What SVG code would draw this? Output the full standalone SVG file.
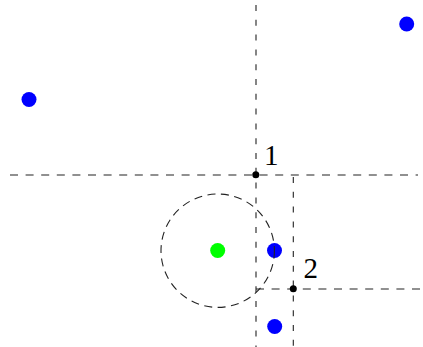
<svg xmlns="http://www.w3.org/2000/svg" width="423" height="347" viewBox="0 0 423 347">
<style>
.h{stroke:#222;stroke-width:1.1;fill:none;stroke-dasharray:8 7.6}
.v{stroke:#222;stroke-width:1.1;fill:none;stroke-dasharray:6 8.8}
.c{stroke:#222;stroke-width:1.1;fill:none;stroke-dasharray:8 5.5}
.blue{fill:#0000ff}
.green{fill:#00ff00}
.k{fill:#000}
.lbl{font-family:"Liberation Serif",serif;font-size:29px;fill:#000}
</style>
<rect width="423" height="347" fill="#fff"/>
<g id="points">
<circle class="blue" cx="29" cy="99.5" r="7.5"/>
<circle class="blue" cx="406.7" cy="24" r="7.5"/>
<circle class="blue" cx="274.5" cy="250.5" r="7.5"/>
<circle class="blue" cx="274.7" cy="326.5" r="7.5"/>
<circle class="green" cx="217.7" cy="250.5" r="7.5"/>
</g>
<g id="connectors">
<line class="v" x1="256" y1="5" x2="256" y2="347"/>
<line class="h" x1="10" y1="175" x2="418" y2="175"/>
<line class="v" x1="293.3" y1="177" x2="293.3" y2="347"/>
<line class="h" x1="256" y1="289" x2="423" y2="289"/>
<circle id="search-circle" class="c" cx="217.7" cy="250.7" r="56.7"/>
</g>
<g id="node1">
<circle class="k" cx="255.8" cy="174.8" r="3.5"/>
<text class="lbl" x="264" y="165">1</text>
</g>
<g id="node2">
<circle class="k" cx="293.3" cy="288.8" r="3.5"/>
<text class="lbl" x="303.5" y="278">2</text>
</g>
</svg>
